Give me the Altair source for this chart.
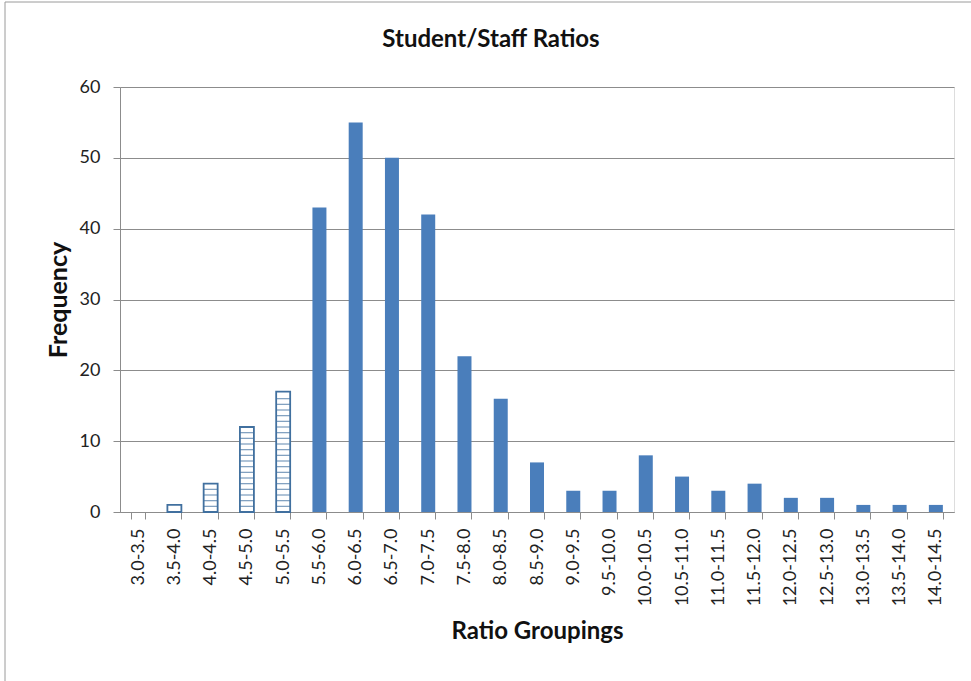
import altair as alt
import numpy as np
import pandas as pd

# Ratio groupings and their frequencies
groups = ["3.0-3.5", "3.5-4.0", "4.0-4.5", "4.5-5.0", "5.0-5.5", "5.5-6.0",
          "6.0-6.5", "6.5-7.0", "7.0-7.5", "7.5-8.0", "8.0-8.5", "8.5-9.0",
          "9.0-9.5", "9.5-10.0", "10.0-10.5", "10.5-11.0", "11.0-11.5",
          "11.5-12.0", "12.0-12.5", "12.5-13.0", "13.0-13.5", "13.5-14.0",
          "14.0-14.5"]
freq = [0, 1, 4, 12, 17, 43, 55, 50, 42, 22, 16, 7, 3, 3, 8, 5, 3, 4, 2, 2, 1, 1, 1]
# Groupings drawn with a hatched (outlined, striped) bar
hatched = ["3.5-4.0", "4.0-4.5", "4.5-5.0", "5.0-5.5"]
chart_title = "Student/Staff Ratios"

df = pd.DataFrame({"group": groups, "freq": freq})
df["hatched"] = df["group"].isin(hatched)

# horizontal hatch lines inside the outlined bars
STRIPE = 0.8
stripe_rows = []
for g, v in zip(groups, freq):
    if g in hatched:
        for s in np.arange(STRIPE, v - 0.2, STRIPE):
            stripe_rows.append({"group": g, "freq": float(s)})
stripes = pd.DataFrame(stripe_rows)

W, H = 834, 425
BLUE = "#4a7ebb"
OUTLINE = "#41709f"
FONT = "Lato"
GRAY = "#8c8c8c"

x_scale = alt.Scale(domain=groups, paddingInner=0.614, paddingOuter=0.307)
y_scale = alt.Scale(domain=[0, 60], nice=False)

x_axis = alt.Axis(title="Ratio Groupings", labelAngle=-90, labelAlign="right",
                  labelBaseline="middle", labelPadding=9, tickSize=7,
                  tickBand="extent", labelFontSize=18, labelFont=FONT,
                  labelColor="#222222", titleFont=FONT, titleFontSize=24,
                  titleFontWeight="bold", titleColor="#111111", titlePadding=14,
                  domainColor=GRAY, tickColor=GRAY, grid=False)
y_axis = alt.Axis(title="Frequency", values=[0, 10, 20, 30, 40, 50, 60],
                  tickSize=7, labelPadding=13, labelFontSize=18, labelFont=FONT,
                  labelColor="#222222", titleFont=FONT, titleFontSize=25,
                  titleFontWeight="bold", titleColor="#111111", titlePadding=8,
                  domainColor=GRAY, tickColor=GRAY,
                  grid=True, gridColor=GRAY, gridWidth=1)

x_enc = alt.X("group:N", sort=groups, scale=x_scale, axis=x_axis)
y_enc = alt.Y("freq:Q", scale=y_scale, axis=y_axis)

solid = alt.Chart(df).transform_filter("!datum.hatched").mark_bar(
    color=BLUE).encode(x=x_enc, y=y_enc)

outlined = alt.Chart(df).transform_filter("datum.hatched").mark_bar(
    fill="white", stroke=OUTLINE, strokeWidth=1.8).encode(x=x_enc, y=y_enc)

hatch = alt.Chart(stripes).mark_tick(
    color=OUTLINE, thickness=1.2, size=14, orient="horizontal").encode(x=x_enc, y=y_enc)

# thin border around the whole chart area
frame = alt.Chart(df.head(1)).mark_rect(
    fill=None, stroke="#9a9a9a", strokeWidth=1).encode(
    x=alt.value(-115), x2=alt.value(W + 60),
    y=alt.value(-85), y2=alt.value(H + 220))

# chart heading, centred over the chart area
heading = alt.Chart(pd.DataFrame({"t": [chart_title]})).mark_text(
    font=FONT, fontSize=24, fontWeight="bold", color="#111111",
    align="center", baseline="alphabetic").encode(
    text="t:N", x=alt.value(371), y=alt.value(-40))

chart = alt.layer(frame, solid, outlined, hatch, heading).properties(
    width=W, height=H,
    autosize=alt.AutoSizeParams(type="none"),
    padding={"left": 120, "top": 87, "right": 17, "bottom": 169},
).configure_view(stroke=None).configure(background="white")

chart.save("out.html", embed_options={"renderer": "svg", "actions": False})
